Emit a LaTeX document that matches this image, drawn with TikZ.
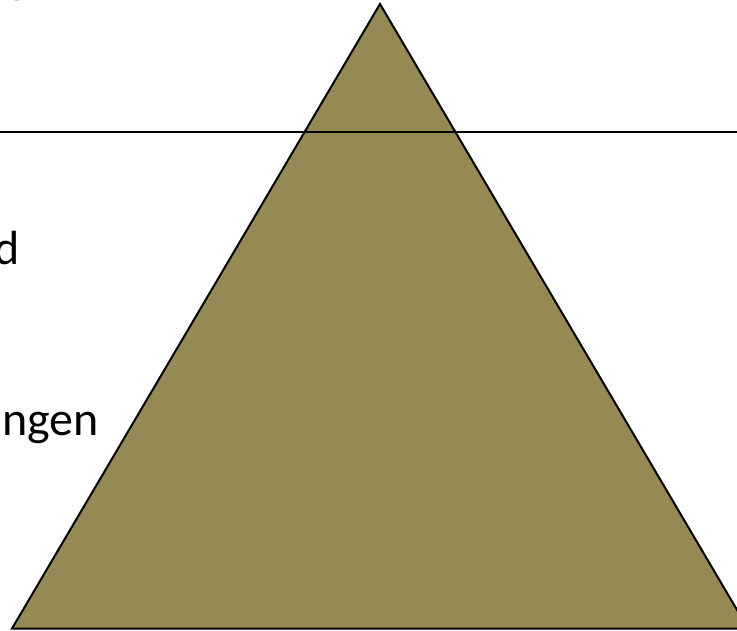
\documentclass[tikz,border=0pt]{standalone}
\usepackage{fontspec}
\setmainfont{Carlito}
\usepackage{xcolor}
\definecolor{pyramidfill}{RGB}{150,138,84}

\begin{document}
\begin{tikzpicture}[x=1pt,y=1pt,
  cuttext/.style={inner sep=0pt, outer sep=0pt, font=\fontsize{48}{56}\selectfont, text=black}]

\useasboundingbox (0,0) rectangle (737,630);
\clip (0,0) rectangle (737,630);

% Corners of the pyramid
\coordinate (apex) at (380,626);
\coordinate (baseL) at (12,1.5);
\coordinate (baseR) at (748,1.5);

% Pyramid
\fill[pyramidfill] (apex) -- (baseL) -- (baseR) -- cycle;
\draw[black, line width=2pt, line join=miter] (apex) -- (baseL) -- (baseR) -- cycle;

% Dividing line
\coordinate (lineL) at (0,497.5);
\coordinate (lineR) at (737,497.5);
\draw[black, line width=2pt] (lineL) -- (lineR);

% Labels (cut off at the left edge)
\node[cuttext, anchor=base east] (topword) at (29,637) {g};
\node[cuttext, anchor=base east] (midword) at (20,365) {d};
\node[cuttext, anchor=base east] (lowword) at (99,194) {ngen};

\end{tikzpicture}
\end{document}
